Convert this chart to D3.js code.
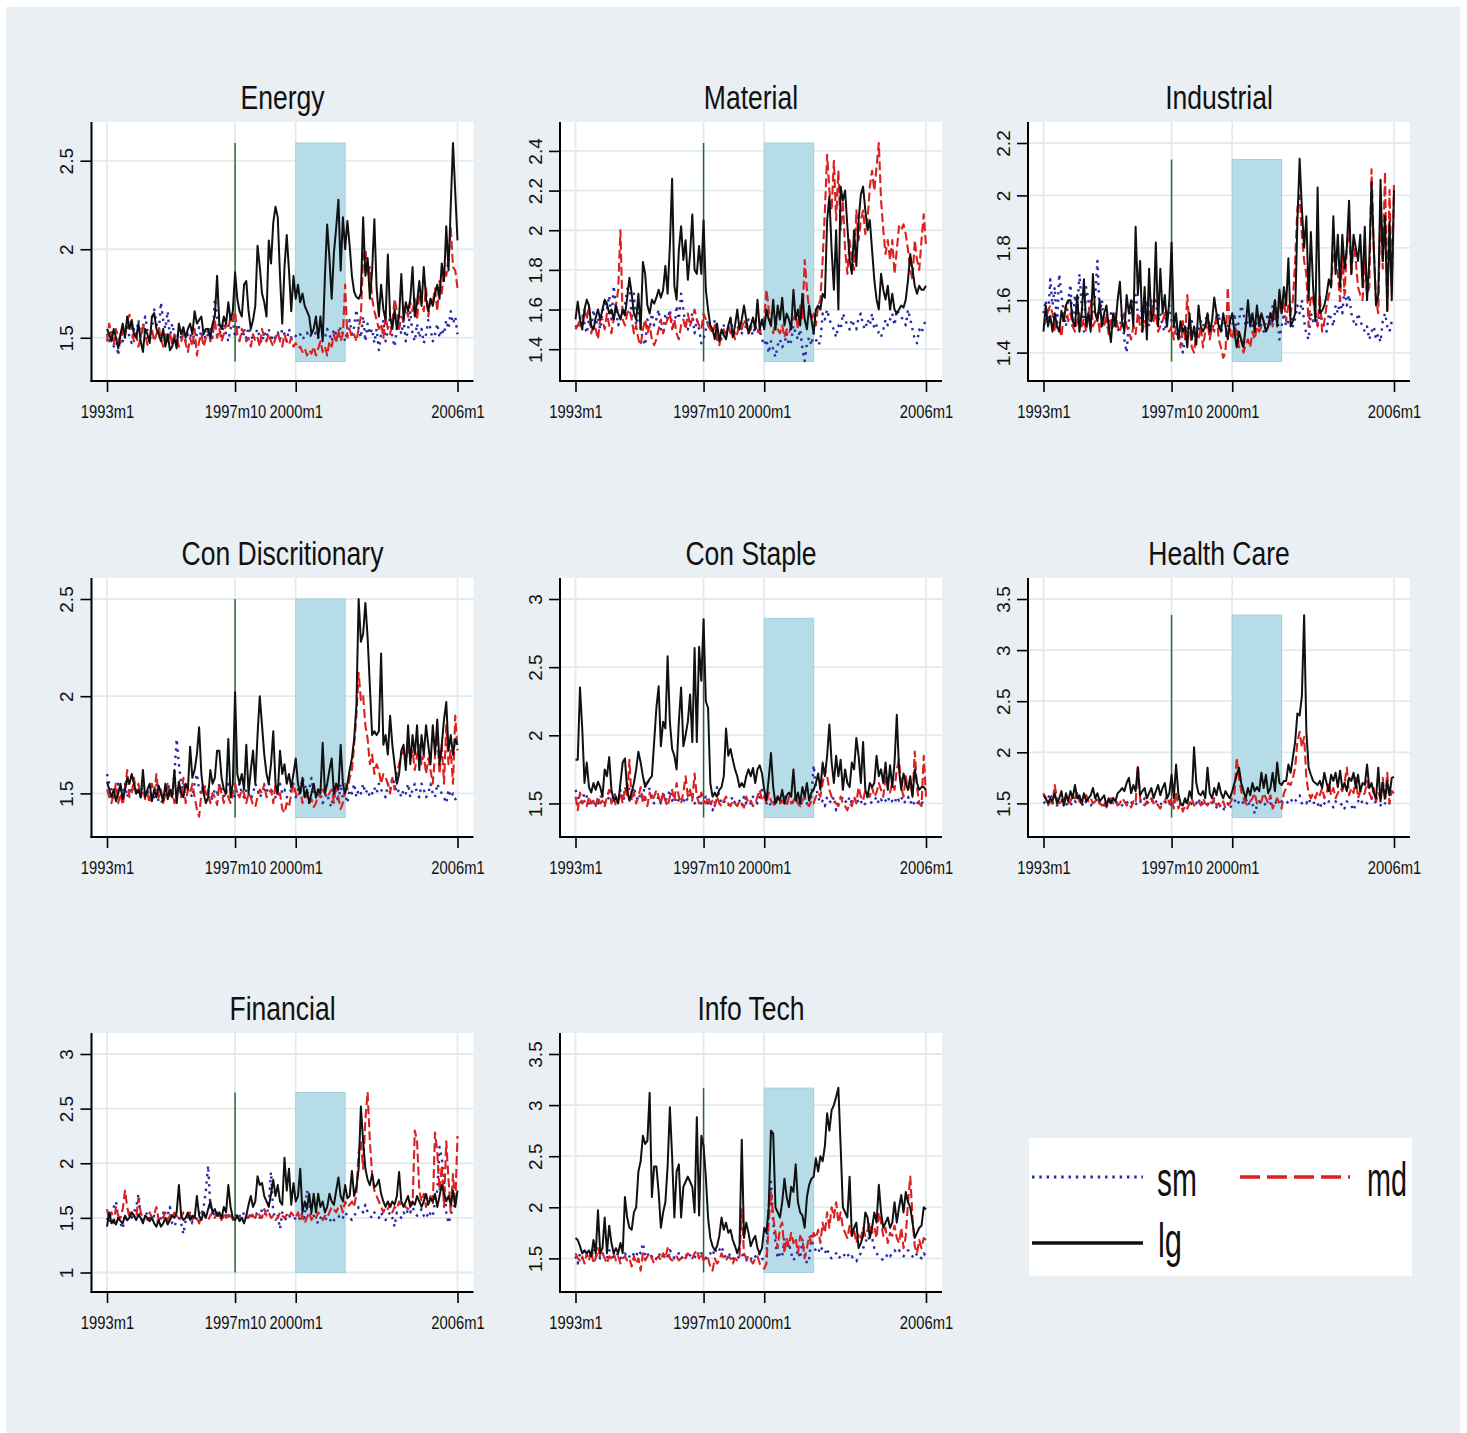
<!DOCTYPE html>
<html>
<head>
<meta charset="utf-8">
<script src="https://cdn.jsdelivr.net/npm/d3@7"></script>
<style>
  body { margin: 0; background: #fff; }
</style>
</head>
<body>
<svg id="chart" width="1467" height="1433"></svg>
<script>
// monthly values 1993m1 .. 2006m1 (157 months)

var xTickMonths = [0, 57, 84, 156];
var xTickLabels = ["1993m1", "1997m10", "2000m1", "2006m1"];
var crisisMonth = 57;          // 1997m10
var bandMonths = [84, 106];    // 2000m1 .. 2001m11

var energyLg = [
1.55,1.52,1.48,1.55,1.50,1.44,1.52,1.58,1.50,1.62,1.55,1.60,
1.52,1.50,1.58,1.48,1.42,1.55,1.52,1.47,1.62,1.64,1.55,1.52,
1.48,1.55,1.45,1.52,1.43,1.45,1.50,1.44,1.58,1.52,1.56,1.50,
1.55,1.58,1.52,1.65,1.58,1.60,1.62,1.52,1.55,1.55,1.50,1.58,
1.62,1.85,1.58,1.55,1.62,1.58,1.70,1.60,1.65,1.87,1.72,1.65,
1.62,1.80,1.82,1.65,1.55,1.60,1.68,2.02,1.90,1.75,1.70,1.62,
2.05,1.92,2.15,2.24,2.18,1.85,1.58,1.90,2.08,1.88,1.65,1.85,
1.72,1.80,1.70,1.75,1.68,1.65,1.62,1.52,1.55,1.62,1.50,1.62,
1.48,1.85,2.14,1.95,1.72,1.98,2.12,2.28,1.88,2.18,2.00,2.16,
2.02,1.85,1.76,1.73,1.72,1.75,2.18,1.85,1.95,1.72,1.88,2.17,
1.78,1.62,1.80,1.66,1.60,1.97,1.62,1.55,1.66,1.55,1.62,1.86,
1.60,1.70,1.65,1.72,1.90,1.62,1.70,1.82,1.68,1.90,1.72,1.65,
1.72,1.68,1.75,1.80,1.72,1.92,1.82,2.13,1.88,2.25,2.60,2.32,
2.05];
var energyMd = [
1.48,1.58,1.52,1.46,1.55,1.50,1.47,1.55,1.52,1.60,1.63,1.55,
1.48,1.52,1.45,1.50,1.58,1.52,1.46,1.50,1.55,1.48,1.52,1.56,
1.50,1.45,1.52,1.48,1.53,1.46,1.52,1.50,1.45,1.48,1.52,1.47,
1.42,1.50,1.45,1.55,1.40,1.48,1.52,1.45,1.50,1.55,1.48,1.52,
1.60,1.50,1.55,1.48,1.52,1.58,1.55,1.62,1.60,1.65,1.52,1.48,
1.55,1.52,1.48,1.50,1.45,1.52,1.48,1.50,1.45,1.55,1.50,1.48,
1.52,1.48,1.45,1.50,1.53,1.48,1.45,1.52,1.48,1.46,1.50,1.45,
1.47,1.44,1.45,1.42,1.44,1.40,1.43,1.41,1.45,1.40,1.44,1.48,
1.42,1.45,1.40,1.48,1.45,1.52,1.47,1.55,1.48,1.52,1.80,1.50,
1.55,1.50,1.52,1.48,1.55,1.62,1.95,2.00,1.85,1.90,1.72,1.65,
1.60,1.55,1.58,1.50,1.62,1.55,1.52,1.58,1.72,1.65,1.55,1.62,
1.60,1.68,1.62,1.70,1.65,1.72,1.60,1.75,1.70,1.65,1.78,1.62,
1.72,1.70,1.78,1.65,1.82,1.75,1.88,1.85,1.95,2.12,1.90,1.88,
1.78];
var energySm = [
1.52,1.48,1.55,1.45,1.50,1.40,1.53,1.48,1.52,1.58,1.50,1.47,
1.55,1.52,1.60,1.50,1.56,1.62,1.54,1.48,1.55,1.66,1.58,1.52,
1.70,1.60,1.55,1.65,1.50,1.58,1.52,1.47,1.55,1.50,1.53,1.48,
1.52,1.50,1.55,1.47,1.52,1.56,1.50,1.53,1.49,1.52,1.55,1.50,
1.72,1.62,1.55,1.50,1.58,1.52,1.48,1.55,1.60,1.50,1.58,1.55,
1.52,1.55,1.50,1.56,1.53,1.48,1.52,1.55,1.50,1.47,1.53,1.50,
1.55,1.48,1.52,1.50,1.53,1.49,1.55,1.52,1.48,1.55,1.50,1.52,
1.51,1.50,1.52,1.49,1.51,1.53,1.50,1.52,1.51,1.53,1.50,1.52,
1.53,1.50,1.55,1.52,1.48,1.55,1.52,1.50,1.56,1.52,1.48,1.55,
1.60,1.52,1.56,1.66,1.55,1.50,1.62,1.48,1.58,1.52,1.55,1.47,
1.55,1.43,1.52,1.60,1.48,1.55,1.62,1.50,1.45,1.55,1.58,1.52,
1.60,1.48,1.55,1.65,1.52,1.48,1.58,1.50,1.55,1.47,1.52,1.60,
1.55,1.48,1.52,1.58,1.50,1.55,1.52,1.60,1.55,1.65,1.58,1.62,
1.52];

var materialLg = [
1.55,1.64,1.55,1.50,1.60,1.65,1.62,1.52,1.50,1.56,1.60,1.55,
1.60,1.65,1.63,1.58,1.60,1.55,1.62,1.58,1.55,1.60,1.57,1.66,
1.76,1.68,1.58,1.55,1.68,1.50,1.84,1.78,1.62,1.58,1.65,1.63,
1.66,1.70,1.66,1.70,1.82,1.68,1.92,2.26,1.72,1.65,1.90,2.02,
1.85,1.95,1.75,1.88,2.08,1.80,1.78,1.92,1.78,2.05,1.70,1.60,
1.52,1.50,1.45,1.53,1.44,1.50,1.47,1.45,1.52,1.56,1.46,1.52,
1.60,1.50,1.55,1.62,1.55,1.48,1.52,1.56,1.50,1.65,1.50,1.55,
1.50,1.60,1.55,1.52,1.65,1.50,1.62,1.55,1.66,1.52,1.58,1.55,
1.50,1.70,1.55,1.60,1.52,1.68,1.55,1.50,1.62,1.55,1.48,1.60,
1.62,1.60,1.68,1.66,2.05,2.17,1.90,1.70,2.00,1.60,2.22,2.15,
2.20,2.02,1.85,1.78,2.00,1.82,2.05,2.18,2.22,2.10,2.00,2.05,
1.90,1.75,1.65,1.60,1.78,1.70,1.65,1.72,1.60,1.68,1.60,1.58,
1.60,1.62,1.61,1.65,1.75,1.88,1.80,1.72,1.68,1.72,1.70,1.70,
1.72];
var materialMd = [
1.50,1.52,1.55,1.50,1.60,1.55,1.62,1.48,1.52,1.50,1.45,1.55,
1.55,1.50,1.58,1.52,1.48,1.55,1.62,1.70,2.00,1.55,1.52,1.58,
1.60,1.55,1.48,1.52,1.45,1.42,1.50,1.55,1.48,1.52,1.45,1.42,
1.45,1.50,1.55,1.48,1.52,1.55,1.58,1.50,1.55,1.48,1.45,1.52,
1.55,1.50,1.58,1.52,1.55,1.60,1.55,1.52,1.50,1.58,1.55,1.52,
1.50,1.48,1.52,1.45,1.42,1.48,1.50,1.46,1.52,1.48,1.50,1.45,
1.48,1.52,1.50,1.55,1.52,1.48,1.50,1.55,1.52,1.50,1.48,1.52,
1.55,1.70,1.60,1.52,1.48,1.55,1.50,1.48,1.52,1.46,1.50,1.48,
1.52,1.55,1.58,1.50,1.62,1.55,1.85,1.70,1.60,1.55,1.58,1.52,
1.62,1.65,1.85,2.10,2.38,2.20,2.10,2.35,2.05,2.30,2.00,2.15,
1.90,1.78,1.95,1.85,1.80,2.10,1.95,2.05,2.10,1.98,2.05,2.22,
2.30,2.20,2.32,2.44,2.15,2.00,1.88,1.95,1.85,1.95,1.78,1.90,
2.02,2.00,2.03,1.98,1.90,1.80,1.75,1.95,1.85,1.80,1.95,2.08,
1.92];
var materialSm = [
1.52,1.50,1.55,1.58,1.53,1.48,1.55,1.50,1.60,1.52,1.56,1.50,
1.58,1.65,1.60,1.67,1.55,1.72,1.60,1.52,1.56,1.58,1.62,1.70,
1.73,1.55,1.68,1.52,1.60,1.50,1.45,1.42,1.55,1.50,1.58,1.52,
1.55,1.60,1.50,1.48,1.58,1.55,1.60,1.52,1.50,1.62,1.55,1.68,
1.60,1.52,1.50,1.55,1.58,1.48,1.55,1.50,1.43,1.45,1.50,1.55,
1.52,1.48,1.55,1.50,1.47,1.45,1.52,1.48,1.50,1.55,1.50,1.48,
1.50,1.53,1.48,1.50,1.52,1.55,1.50,1.47,1.52,1.48,1.50,1.45,
1.42,1.45,1.38,1.44,1.40,1.36,1.42,1.45,1.41,1.43,1.48,1.42,
1.44,1.52,1.48,1.45,1.50,1.40,1.34,1.43,1.46,1.42,1.48,1.45,
1.42,1.44,1.58,1.55,1.60,1.55,1.52,1.50,1.46,1.52,1.50,1.58,
1.55,1.52,1.50,1.55,1.52,1.50,1.56,1.58,1.52,1.50,1.55,1.52,
1.58,1.50,1.52,1.48,1.46,1.50,1.55,1.52,1.55,1.58,1.52,1.60,
1.58,1.56,1.55,1.52,1.60,1.55,1.50,1.45,1.43,1.50,1.48,1.52,
1.55];

var industrialLg = [
1.48,1.58,1.50,1.54,1.48,1.55,1.50,1.48,1.56,1.52,1.58,1.60,
1.60,1.52,1.50,1.62,1.48,1.55,1.68,1.50,1.55,1.48,1.70,1.55,
1.52,1.60,1.50,1.55,1.58,1.50,1.44,1.55,1.50,1.60,1.67,1.52,
1.48,1.62,1.55,1.60,1.50,1.88,1.62,1.75,1.48,1.65,1.45,1.72,
1.52,1.55,1.82,1.50,1.72,1.55,1.62,1.50,1.60,1.82,1.50,1.55,
1.45,1.52,1.48,1.50,1.42,1.55,1.45,1.50,1.43,1.58,1.50,1.48,
1.50,1.55,1.48,1.52,1.61,1.55,1.50,1.48,1.55,1.50,1.45,1.52,
1.55,1.48,1.42,1.48,1.45,1.42,1.50,1.60,1.50,1.55,1.48,1.58,
1.50,1.55,1.52,1.48,1.50,1.55,1.52,1.60,1.50,1.64,1.55,1.65,
1.58,1.76,1.50,1.52,1.55,1.90,2.14,1.95,1.80,1.92,1.60,1.86,
1.65,1.52,2.03,1.55,1.56,1.58,1.62,1.68,1.65,1.92,1.70,1.85,
1.65,1.85,1.72,1.80,1.98,1.70,1.85,1.80,1.75,1.85,1.65,1.88,
1.60,1.75,2.05,1.80,1.58,1.62,2.06,1.75,1.92,1.56,1.90,1.60,
2.02];
var industrialMd = [
1.50,1.52,1.56,1.58,1.55,1.48,1.52,1.50,1.46,1.55,1.58,1.52,
1.55,1.50,1.48,1.52,1.55,1.50,1.53,1.48,1.55,1.60,1.50,1.52,
1.55,1.48,1.52,1.50,1.55,1.47,1.53,1.50,1.55,1.50,1.48,1.52,
1.55,1.50,1.48,1.45,1.50,1.47,1.55,1.50,1.48,1.52,1.50,1.55,
1.60,1.52,1.55,1.48,1.50,1.52,1.55,1.50,1.48,1.50,1.45,1.50,
1.48,1.42,1.52,1.45,1.62,1.50,1.42,1.40,1.48,1.45,1.50,1.42,
1.48,1.52,1.45,1.50,1.48,1.55,1.45,1.42,1.38,1.40,1.65,1.48,
1.45,1.50,1.48,1.42,1.45,1.40,1.43,1.45,1.42,1.48,1.45,1.50,
1.48,1.50,1.52,1.48,1.50,1.55,1.50,1.60,1.55,1.58,1.55,1.60,
1.52,1.58,1.55,1.60,1.75,1.95,2.00,1.85,1.75,1.70,1.50,1.62,
1.60,1.55,1.50,1.62,1.48,1.52,1.58,1.62,1.65,1.78,1.75,1.70,
1.60,1.78,1.62,1.80,1.88,1.70,1.82,1.75,1.65,1.62,1.60,1.75,
1.62,1.65,2.10,1.80,1.60,1.55,1.98,1.72,2.09,1.55,2.02,1.65,
2.04];
var industrialSm = [
1.55,1.60,1.52,1.68,1.58,1.65,1.50,1.70,1.62,1.55,1.50,1.60,
1.66,1.50,1.62,1.55,1.70,1.58,1.48,1.65,1.60,1.52,1.56,1.62,
1.75,1.55,1.60,1.50,1.52,1.48,1.55,1.50,1.53,1.48,1.50,1.55,
1.45,1.40,1.52,1.60,1.58,1.62,1.55,1.52,1.58,1.55,1.60,1.50,
1.55,1.58,1.60,1.52,1.55,1.50,1.48,1.55,1.58,1.52,1.50,1.48,
1.45,1.50,1.40,1.45,1.50,1.48,1.52,1.50,1.45,1.48,1.52,1.50,
1.52,1.55,1.50,1.48,1.52,1.50,1.55,1.48,1.50,1.52,1.50,1.48,
1.50,1.55,1.48,1.52,1.58,1.55,1.50,1.52,1.55,1.50,1.48,1.52,
1.55,1.50,1.48,1.52,1.55,1.50,1.58,1.52,1.55,1.45,1.50,1.55,
1.50,1.52,1.55,1.50,1.53,1.58,1.55,1.60,1.52,1.47,1.45,1.55,
1.52,1.55,1.50,1.56,1.52,1.50,1.48,1.55,1.53,1.50,1.58,1.55,
1.60,1.55,1.65,1.58,1.62,1.55,1.52,1.50,1.55,1.52,1.50,1.48,
1.50,1.45,1.48,1.50,1.45,1.47,1.44,1.52,1.55,1.50,1.48,1.52,
1.53];

var conDiscLg = [
1.56,1.52,1.48,1.52,1.46,1.50,1.55,1.47,1.52,1.58,1.55,1.60,
1.55,1.50,1.52,1.48,1.62,1.48,1.52,1.55,1.46,1.52,1.48,1.54,
1.50,1.46,1.55,1.47,1.52,1.48,1.62,1.45,1.56,1.50,1.48,1.55,
1.52,1.74,1.58,1.62,1.70,1.84,1.60,1.50,1.45,1.48,1.62,1.55,
1.58,1.72,1.72,1.58,1.52,1.50,1.78,1.48,1.55,2.02,1.60,1.55,
1.60,1.52,1.75,1.50,1.62,1.72,1.55,1.80,2.00,1.85,1.70,1.60,
1.55,1.65,1.82,1.55,1.50,1.72,1.60,1.65,1.55,1.60,1.53,1.60,
1.68,1.55,1.50,1.58,1.48,1.52,1.45,1.50,1.55,1.48,1.52,1.50,
1.76,1.50,1.55,1.62,1.68,1.50,1.55,1.52,1.75,1.55,1.50,1.55,
1.62,1.68,1.78,1.95,2.50,2.28,2.32,2.48,2.30,2.05,1.80,1.82,
1.80,1.82,2.22,1.75,1.80,1.70,1.90,1.75,1.65,1.55,1.60,1.72,
1.75,1.62,1.85,1.65,1.80,1.70,1.85,1.62,1.80,1.70,1.85,1.75,
1.65,1.85,1.70,1.88,1.65,1.75,1.88,1.97,1.72,1.80,1.70,1.78,
1.75];
var conDiscMd = [
1.52,1.48,1.45,1.50,1.55,1.45,1.50,1.44,1.52,1.62,1.48,1.50,
1.58,1.50,1.55,1.48,1.52,1.47,1.50,1.45,1.55,1.50,1.60,1.48,
1.52,1.45,1.50,1.55,1.48,1.52,1.45,1.50,1.55,1.48,1.58,1.45,
1.52,1.50,1.55,1.48,1.42,1.38,1.50,1.55,1.48,1.52,1.45,1.50,
1.48,1.44,1.55,1.50,1.45,1.52,1.48,1.45,1.50,1.55,1.50,1.48,
1.52,1.50,1.45,1.50,1.48,1.44,1.43,1.48,1.52,1.50,1.55,1.48,
1.50,1.52,1.45,1.55,1.48,1.50,1.42,1.40,1.45,1.43,1.50,1.55,
1.50,1.48,1.52,1.45,1.50,1.48,1.45,1.47,1.43,1.45,1.50,1.48,
1.52,1.50,1.48,1.50,1.52,1.45,1.55,1.48,1.42,1.45,1.55,1.52,
1.58,1.62,1.75,1.90,2.12,1.98,2.00,1.85,1.78,1.65,1.70,1.60,
1.65,1.62,1.55,1.60,1.58,1.55,1.50,1.58,1.52,1.60,1.65,1.70,
1.72,1.65,1.75,1.68,1.72,1.62,1.70,1.75,1.65,1.70,1.60,1.68,
1.62,1.55,1.70,1.80,1.60,1.75,1.55,1.85,1.65,1.72,1.55,1.90,
1.72];
var conDiscSm = [
1.60,1.55,1.52,1.48,1.50,1.55,1.52,1.50,1.55,1.48,1.52,1.50,
1.55,1.50,1.52,1.48,1.55,1.50,1.52,1.46,1.50,1.48,1.55,1.45,
1.45,1.47,1.50,1.55,1.52,1.48,1.60,1.78,1.65,1.55,1.50,1.55,
1.52,1.50,1.48,1.55,1.60,1.52,1.50,1.55,1.52,1.50,1.45,1.48,
1.52,1.50,1.55,1.52,1.48,1.50,1.55,1.52,1.50,1.48,1.52,1.55,
1.50,1.48,1.52,1.50,1.47,1.50,1.55,1.52,1.48,1.50,1.52,1.50,
1.55,1.52,1.50,1.48,1.52,1.55,1.50,1.52,1.48,1.50,1.52,1.55,
1.48,1.52,1.50,1.58,1.55,1.50,1.52,1.58,1.50,1.48,1.52,1.50,
1.45,1.48,1.50,1.45,1.43,1.52,1.50,1.45,1.55,1.47,1.50,1.45,
1.52,1.50,1.55,1.48,1.52,1.50,1.55,1.50,1.52,1.48,1.50,1.53,
1.50,1.55,1.52,1.50,1.48,1.55,1.52,1.58,1.55,1.50,1.52,1.48,
1.52,1.50,1.55,1.48,1.52,1.55,1.50,1.48,1.55,1.52,1.48,1.50,
1.55,1.50,1.48,1.55,1.52,1.50,1.48,1.45,1.52,1.48,1.50,1.47,
1.48];

var conStapleLg = [
1.82,1.82,2.35,2.05,1.65,1.80,1.62,1.58,1.65,1.60,1.66,1.62,
1.55,1.75,1.70,1.84,1.60,1.52,1.55,1.50,1.65,1.80,1.83,1.60,
1.52,1.58,1.65,1.75,1.88,1.80,1.70,1.62,1.65,1.68,1.70,1.95,
2.20,2.36,1.92,2.10,2.05,2.58,2.10,1.90,1.85,1.75,2.10,2.35,
1.92,2.00,2.10,2.30,1.95,2.64,1.95,2.65,2.40,2.85,2.25,2.20,
1.65,1.55,1.58,1.55,1.60,1.62,1.70,2.05,1.85,1.90,1.82,1.75,
1.70,1.62,1.65,1.62,1.70,1.75,1.70,1.76,1.65,1.75,1.78,1.72,
1.60,1.52,1.68,1.87,1.62,1.50,1.55,1.52,1.60,1.50,1.56,1.58,
1.55,1.75,1.52,1.58,1.50,1.62,1.55,1.65,1.52,1.58,1.60,1.65,
1.72,1.60,1.80,1.70,1.85,2.08,1.80,1.65,1.85,1.70,1.82,1.60,
1.75,1.65,1.62,1.80,1.75,1.98,1.85,1.65,1.95,1.60,1.55,1.65,
1.62,1.65,1.85,1.70,1.75,1.65,1.80,1.60,1.78,1.62,1.80,2.15,
1.75,1.60,1.72,1.65,1.60,1.70,1.55,1.75,1.65,1.60,1.62,1.62,
1.60];
var conStapleMd = [
1.55,1.45,1.58,1.50,1.52,1.48,1.55,1.50,1.52,1.48,1.55,1.50,
1.52,1.48,1.55,1.60,1.50,1.55,1.48,1.52,1.58,1.50,1.62,1.55,
1.82,1.52,1.58,1.50,1.55,1.62,1.50,1.55,1.48,1.58,1.52,1.55,
1.60,1.55,1.50,1.58,1.52,1.48,1.55,1.60,1.52,1.65,1.55,1.50,
1.58,1.70,1.55,1.60,1.52,1.72,1.55,1.50,1.58,1.52,1.50,1.55,
1.50,1.52,1.48,1.55,1.50,1.48,1.52,1.55,1.50,1.48,1.52,1.50,
1.48,1.52,1.50,1.47,1.55,1.50,1.52,1.48,1.50,1.55,1.60,1.52,
1.55,1.50,1.58,1.52,1.50,1.48,1.55,1.50,1.52,1.50,1.48,1.55,
1.50,1.52,1.55,1.50,1.48,1.52,1.55,1.50,1.48,1.52,1.50,1.55,
1.58,1.55,1.65,1.75,1.70,1.60,1.55,1.52,1.50,1.48,1.55,1.50,
1.48,1.45,1.50,1.48,1.55,1.50,1.62,1.55,1.52,1.60,1.58,1.55,
1.62,1.55,1.58,1.65,1.60,1.55,1.70,1.62,1.58,1.65,1.60,1.75,
1.82,1.62,1.55,1.70,1.60,1.65,1.55,1.88,1.62,1.50,1.48,1.85,
1.55];
var conStapleSm = [
1.60,1.55,1.50,1.52,1.58,1.55,1.50,1.53,1.48,1.52,1.50,1.55,
1.55,1.50,1.52,1.55,1.60,1.58,1.55,1.50,1.60,1.52,1.55,1.65,
1.60,1.55,1.62,1.55,1.52,1.58,1.55,1.65,1.68,1.60,1.55,1.50,
1.52,1.55,1.50,1.58,1.52,1.55,1.60,1.52,1.55,1.50,1.53,1.55,
1.50,1.55,1.52,1.58,1.55,1.50,1.52,1.55,1.50,1.52,1.55,1.50,
1.52,1.45,1.50,1.62,1.55,1.50,1.52,1.50,1.48,1.52,1.55,1.50,
1.50,1.52,1.48,1.55,1.50,1.52,1.50,1.55,1.52,1.50,1.55,1.60,
1.55,1.50,1.52,1.48,1.50,1.52,1.55,1.50,1.52,1.55,1.50,1.52,
1.52,1.50,1.55,1.50,1.48,1.52,1.55,1.50,1.52,1.55,1.78,1.62,
1.55,1.50,1.52,1.48,1.55,1.52,1.50,1.55,1.45,1.50,1.52,1.55,
1.52,1.50,1.55,1.50,1.52,1.55,1.50,1.52,1.48,1.50,1.55,1.52,
1.50,1.52,1.55,1.50,1.53,1.50,1.52,1.55,1.50,1.52,1.50,1.55,
1.52,1.55,1.50,1.52,1.55,1.50,1.53,1.48,1.50,1.52,1.50,1.52,
1.50];

var healthLg = [
1.58,1.55,1.50,1.55,1.52,1.60,1.50,1.55,1.62,1.48,1.60,1.52,
1.62,1.55,1.68,1.55,1.58,1.50,1.60,1.52,1.55,1.58,1.65,1.55,
1.60,1.52,1.55,1.58,1.48,1.55,1.50,1.55,1.52,1.60,1.62,1.65,
1.62,1.70,1.75,1.60,1.68,1.62,1.85,1.58,1.62,1.65,1.55,1.60,
1.65,1.55,1.62,1.68,1.58,1.65,1.70,1.55,1.60,1.78,1.55,1.88,
1.60,1.50,1.48,1.55,1.50,1.62,1.55,2.05,1.70,1.60,1.58,1.62,
1.55,1.85,1.60,1.55,1.65,1.58,1.70,1.60,1.55,1.62,1.58,1.55,
1.62,1.70,1.78,1.85,1.70,1.62,1.55,1.65,1.58,1.70,1.62,1.66,
1.62,1.80,1.65,1.78,1.60,1.65,1.80,1.62,1.90,1.70,1.68,1.72,
1.72,1.88,1.80,1.95,2.10,2.38,2.36,2.55,3.34,2.20,1.85,1.78,
1.72,1.70,1.68,1.72,1.65,1.80,1.70,1.62,1.78,1.72,1.80,1.66,
1.82,1.65,1.70,1.62,1.75,1.72,1.80,1.65,1.78,1.62,1.70,1.68,
1.88,1.65,1.70,1.60,1.55,1.85,1.52,1.70,1.55,1.72,1.58,1.75,
1.76];
var healthMd = [
1.60,1.55,1.48,1.52,1.50,1.68,1.55,1.50,1.52,1.48,1.55,1.50,
1.52,1.58,1.55,1.60,1.52,1.50,1.55,1.58,1.52,1.55,1.50,1.52,
1.55,1.50,1.48,1.52,1.46,1.50,1.55,1.50,1.52,1.48,1.50,1.55,
1.52,1.48,1.50,1.46,1.52,1.50,1.88,1.55,1.50,1.48,1.52,1.50,
1.55,1.50,1.52,1.48,1.45,1.50,1.52,1.58,1.50,1.55,1.45,1.62,
1.45,1.50,1.42,1.48,1.45,1.50,1.55,1.48,1.50,1.52,1.48,1.55,
1.50,1.48,1.52,1.50,1.55,1.48,1.50,1.47,1.52,1.45,1.48,1.50,
1.55,1.60,1.95,1.75,1.62,1.55,1.50,1.48,1.52,1.55,1.60,1.50,
1.48,1.52,1.60,1.55,1.50,1.58,1.45,1.50,1.55,1.50,1.45,1.60,
1.65,1.70,1.68,1.75,1.85,2.10,2.20,2.05,2.15,1.75,1.60,1.55,
1.60,1.55,1.62,1.58,1.65,1.55,1.60,1.70,1.58,1.65,1.55,1.60,
1.65,1.62,1.70,1.85,1.58,1.65,1.60,1.75,1.55,1.62,1.58,1.60,
1.72,1.60,1.55,1.65,1.52,1.60,1.55,1.75,1.52,1.80,1.50,1.62,
1.60];
var healthSm = [
1.50,1.52,1.55,1.60,1.50,1.52,1.48,1.50,1.53,1.50,1.48,1.52,
1.50,1.48,1.52,1.50,1.55,1.50,1.47,1.52,1.50,1.48,1.50,1.52,
1.55,1.50,1.52,1.48,1.50,1.52,1.50,1.55,1.50,1.52,1.50,1.48,
1.50,1.52,1.48,1.50,1.53,1.50,1.48,1.52,1.50,1.55,1.50,1.52,
1.50,1.55,1.52,1.50,1.48,1.52,1.50,1.53,1.50,1.48,1.52,1.50,
1.55,1.50,1.48,1.52,1.50,1.48,1.50,1.52,1.50,1.55,1.48,1.50,
1.52,1.50,1.48,1.50,1.52,1.46,1.50,1.45,1.43,1.48,1.50,1.45,
1.50,1.52,1.55,1.50,1.48,1.52,1.55,1.48,1.52,1.50,1.40,1.48,
1.52,1.50,1.48,1.50,1.52,1.50,1.48,1.50,1.52,1.50,1.52,1.50,
1.50,1.52,1.55,1.50,1.52,1.55,1.58,1.50,1.52,1.50,1.55,1.50,
1.52,1.48,1.50,1.45,1.52,1.50,1.48,1.52,1.50,1.46,1.52,1.50,
1.48,1.50,1.45,1.52,1.50,1.48,1.43,1.50,1.52,1.55,1.50,1.52,
1.50,1.52,1.55,1.50,1.52,1.50,1.48,1.52,1.50,1.53,1.50,1.52,
1.51];

var financialLg = [
1.42,1.55,1.45,1.48,1.44,1.50,1.47,1.45,1.52,1.48,1.50,1.55,
1.52,1.48,1.53,1.50,1.45,1.52,1.50,1.47,1.50,1.45,1.42,1.48,
1.42,1.45,1.50,1.44,1.48,1.52,1.50,1.55,1.80,1.52,1.48,1.50,
1.55,1.48,1.52,1.50,1.70,1.52,1.48,1.55,1.50,1.58,1.65,1.55,
1.58,1.52,1.55,1.50,1.60,1.55,1.80,1.60,1.50,1.48,1.52,1.47,
1.50,1.45,1.52,1.62,1.70,1.60,1.65,1.88,1.80,1.82,1.70,1.65,
1.60,1.72,1.85,1.70,1.80,1.65,1.62,2.05,1.75,1.95,1.62,1.82,
1.65,1.70,1.95,1.55,1.65,1.58,1.72,1.55,1.72,1.55,1.72,1.60,
1.65,1.55,1.60,1.72,1.65,1.62,1.75,1.87,1.70,1.65,1.80,1.68,
1.70,1.93,1.70,1.78,1.95,2.52,2.20,1.95,1.85,1.80,1.90,1.78,
1.80,1.85,1.72,1.65,1.60,1.65,1.60,1.65,1.62,1.70,1.92,1.65,
1.60,1.65,1.70,1.60,1.65,1.62,1.70,1.65,1.60,1.65,1.72,1.62,
1.68,1.65,1.72,1.60,1.70,1.80,1.72,1.65,1.70,1.62,1.75,1.60,
1.75];
var financialMd = [
1.58,1.48,1.55,1.45,1.60,1.52,1.50,1.58,1.75,1.60,1.50,1.55,
1.52,1.50,1.68,1.55,1.50,1.52,1.48,1.55,1.50,1.53,1.60,1.48,
1.52,1.50,1.55,1.48,1.52,1.50,1.55,1.52,1.48,1.50,1.55,1.52,
1.50,1.55,1.48,1.52,1.50,1.45,1.52,1.55,1.50,1.48,1.52,1.55,
1.50,1.55,1.52,1.48,1.55,1.50,1.52,1.55,1.48,1.50,1.52,1.48,
1.50,1.48,1.52,1.50,1.55,1.52,1.50,1.55,1.52,1.50,1.58,1.52,
1.55,1.50,1.52,1.48,1.50,1.55,1.52,1.50,1.53,1.50,1.55,1.52,
1.50,1.55,1.48,1.52,1.45,1.50,1.55,1.48,1.52,1.50,1.55,1.52,
1.48,1.52,1.50,1.55,1.60,1.58,1.55,1.60,1.62,1.55,1.65,1.60,
1.62,1.65,1.60,1.72,2.10,2.20,1.95,2.40,2.65,2.20,1.90,1.75,
1.70,1.65,1.60,1.55,1.60,1.58,1.62,1.55,1.60,1.58,1.65,1.60,
1.62,1.60,1.58,1.65,1.62,2.30,2.20,1.75,1.65,1.72,1.60,1.65,
1.70,1.62,2.28,2.10,1.75,1.98,1.60,2.20,1.85,1.55,1.90,1.62,
2.25];
var financialSm = [
1.50,1.45,1.55,1.60,1.65,1.50,1.45,1.40,1.52,1.48,1.55,1.50,
1.55,1.60,1.72,1.50,1.48,1.52,1.55,1.50,1.48,1.52,1.50,1.45,
1.50,1.55,1.48,1.52,1.60,1.45,1.42,1.48,1.50,1.45,1.35,1.48,
1.50,1.52,1.45,1.48,1.50,1.55,1.52,1.60,1.75,1.98,1.60,1.55,
1.52,1.50,1.55,1.48,1.52,1.50,1.55,1.48,1.52,1.50,1.55,1.52,
1.50,1.55,1.52,1.48,1.55,1.50,1.52,1.55,1.50,1.58,1.55,1.52,
1.62,1.92,1.55,1.50,1.52,1.40,1.55,1.50,1.48,1.52,1.50,1.48,
1.50,1.52,1.48,1.55,1.50,1.75,1.65,1.50,1.52,1.48,1.45,1.50,
1.52,1.50,1.48,1.50,1.45,1.48,1.50,1.52,1.48,1.50,1.55,1.52,
1.50,1.48,1.52,1.55,1.60,1.58,1.55,1.62,1.55,1.52,1.50,1.55,
1.52,1.50,1.55,1.50,1.48,1.52,1.55,1.50,1.42,1.55,1.52,1.50,
1.55,1.52,1.58,1.55,1.60,1.55,1.52,1.55,1.58,1.52,1.55,1.50,
1.55,1.52,1.65,1.75,2.15,2.05,1.85,1.55,1.45,1.52,1.60,1.62,
1.60];

var infoTechLg = [
1.70,1.68,1.62,1.55,1.58,1.55,1.58,1.52,1.68,1.55,1.97,1.55,
1.60,1.90,1.55,1.82,1.65,1.55,1.60,1.55,1.65,1.55,2.10,1.90,
1.80,1.78,1.95,2.00,2.35,2.45,2.70,2.62,2.65,3.12,2.10,2.40,
2.40,2.15,1.80,1.95,2.05,2.40,2.98,2.50,1.90,2.35,2.42,1.90,
2.20,2.25,2.30,2.25,2.20,1.95,2.88,1.92,2.70,2.60,2.30,1.90,
1.70,1.62,1.58,1.62,1.72,1.90,1.78,1.85,1.75,1.78,1.68,1.62,
1.55,1.62,2.66,1.70,1.85,1.75,1.62,1.68,1.72,1.60,1.55,1.60,
1.80,1.75,2.00,2.75,2.72,2.00,1.95,1.90,2.05,2.28,2.10,2.00,
2.20,2.15,2.42,2.05,1.95,1.92,1.80,2.10,2.22,2.28,2.30,2.48,
2.35,2.50,2.45,2.60,2.92,2.75,2.95,3.00,3.08,3.17,2.60,2.00,
1.95,1.90,2.30,1.72,1.80,1.85,1.60,1.65,1.72,1.95,1.90,1.70,
1.80,1.95,1.85,2.22,1.95,1.80,1.85,1.90,1.80,1.85,2.05,1.85,
2.00,2.12,1.95,2.15,2.05,2.00,1.85,1.70,1.75,1.80,1.82,2.00,
1.98];
var infoTechMd = [
1.55,1.50,1.48,1.52,1.45,1.55,1.48,1.58,1.45,1.50,1.60,1.52,
1.55,1.50,1.45,1.52,1.50,1.55,1.48,1.52,1.45,1.50,1.52,1.48,
1.50,1.42,1.52,1.45,1.50,1.38,1.55,1.48,1.52,1.55,1.50,1.45,
1.50,1.52,1.48,1.55,1.50,1.60,1.50,1.48,1.50,1.52,1.48,1.50,
1.52,1.50,1.55,1.52,1.50,1.55,1.58,1.50,1.55,1.48,1.52,1.50,
1.42,1.38,1.50,1.45,1.48,1.55,1.50,1.48,1.52,1.50,1.45,1.50,
1.48,1.52,1.98,1.55,1.50,1.52,1.48,1.45,1.50,1.52,1.45,1.42,
1.40,1.45,1.85,2.15,1.90,1.75,1.60,1.80,1.85,1.55,1.70,1.62,
1.75,1.65,1.70,1.55,1.72,1.68,1.50,1.60,1.72,1.65,1.75,1.70,
1.78,1.65,1.85,1.75,1.95,1.80,2.00,1.90,2.05,1.85,1.95,1.80,
1.75,1.70,1.82,1.72,1.78,1.65,1.75,1.70,1.80,1.72,1.78,1.85,
1.75,1.80,1.70,1.95,1.85,1.72,1.80,1.65,1.75,1.72,1.82,1.70,
1.65,1.80,1.60,1.72,2.05,2.30,1.90,1.62,1.55,1.68,1.60,1.70,
1.68];
var infoTechSm = [
1.52,1.45,1.55,1.50,1.58,1.52,1.55,1.50,1.60,1.52,1.55,1.50,
1.55,1.52,1.50,1.58,1.55,1.50,1.52,1.55,1.50,1.52,1.55,1.50,
1.52,1.50,1.55,1.52,1.58,1.55,1.65,1.52,1.55,1.50,1.52,1.48,
1.50,1.55,1.52,1.50,1.55,1.52,1.58,1.55,1.50,1.52,1.55,1.50,
1.52,1.55,1.50,1.53,1.55,1.52,1.50,1.58,1.55,1.52,1.50,1.55,
1.55,1.52,1.60,1.55,1.58,1.62,1.55,1.50,1.52,1.55,1.50,1.48,
1.50,1.52,1.55,1.50,1.48,1.52,1.50,1.48,1.52,1.50,1.55,1.50,
1.48,1.52,2.00,2.25,1.85,1.65,1.50,1.55,1.52,1.70,1.60,1.65,
1.55,1.48,1.52,1.58,1.50,1.68,1.55,1.45,1.50,1.72,1.60,1.58,
1.55,1.62,1.58,1.55,1.60,1.52,1.50,1.52,1.55,1.50,1.52,1.55,
1.52,1.55,1.50,1.52,1.48,1.47,1.52,1.55,1.60,1.65,1.72,1.68,
1.70,1.60,1.55,1.52,1.50,1.48,1.50,1.55,1.52,1.55,1.58,1.55,
1.58,1.55,1.52,1.55,1.58,1.55,1.52,1.50,1.55,1.52,1.50,1.55,
1.52];

var panelNames = ["Energy", "Material", "Industrial", "Con Discritionary",
                  "Con Staple", "Health Care", "Financial", "Info Tech"];
var panelTicks = [[1.5, 2, 2.5], [1.4, 1.6, 1.8, 2, 2.2, 2.4], [1.4, 1.6, 1.8, 2, 2.2],
                  [1.5, 2, 2.5], [1.5, 2, 2.5, 3], [1.5, 2, 2.5, 3, 3.5],
                  [1, 1.5, 2, 2.5, 3], [1.5, 2, 2.5, 3, 3.5]];
// vertical extent of the shaded band and of the 1997m10 line
var bandLow  = [1.366, 1.338, 1.366, 1.376, 1.397, 1.362, 1.0, 1.362];
var bandHigh = [2.60, 2.44, 2.137, 2.50, 2.858, 3.343, 2.648, 3.166];

var seriesSm = [energySm, materialSm, industrialSm, conDiscSm, conStapleSm, healthSm, financialSm, infoTechSm];
var seriesMd = [energyMd, materialMd, industrialMd, conDiscMd, conStapleMd, healthMd, financialMd, infoTechMd];
var seriesLg = [energyLg, materialLg, industrialLg, conDiscLg, conStapleLg, healthLg, financialLg, infoTechLg];

var legendKeys = ["sm", "md", "lg"];

// ---- drawing ----
var svg = d3.select("#chart");
var plain = "'Liberation Sans', Arial, sans-serif";
// no narrow face installed, so the condensed look is done with a horizontal squeeze

svg.append("rect")
    .attr("x", 6).attr("y", 7)
    .attr("width", 1454).attr("height", 1426)
    .attr("fill", "#e9eff2");

var colLeft = [91.5, 560, 1028];
var rowTop = [122, 578, 1033];
var plotW = 382, plotH = 259;

var styles = {
    sm: {color: "#2a2aa6", width: 2.4, dash: "2.4,5"},
    md: {color: "#dc1f1f", width: 2.1, dash: "9,4"},
    lg: {color: "#111111", width: 2, dash: null}
};

panelNames.forEach(function(name, k) {
    var left = colLeft[k % 3], top = rowTop[Math.floor(k / 3)];
    var g = svg.append("g").attr("transform", "translate(" + left + "," + top + ")");

    var ticks = panelTicks[k];
    var lo = Math.min(bandLow[k], d3.min(ticks));
    var hi = Math.max(bandHigh[k], d3.max(ticks));

    var x = d3.scaleLinear().domain([0, 156]).range([15.5, 366]);
    var y = d3.scaleLinear().domain([lo, hi]).range([plotH - 19.5, 21]);

    g.append("rect")
        .attr("width", plotW).attr("height", plotH)
        .attr("fill", "#ffffff");

    // grid
    g.selectAll(".hgrid").data(ticks).enter().append("line")
        .attr("x1", 0).attr("x2", plotW)
        .attr("y1", function(d) { return y(d); })
        .attr("y2", function(d) { return y(d); })
        .attr("stroke", "#e2eaee").attr("stroke-width", 1.8);
    g.selectAll(".vgrid").data(xTickMonths).enter().append("line")
        .attr("y1", 0).attr("y2", plotH)
        .attr("x1", function(d) { return x(d); })
        .attr("x2", function(d) { return x(d); })
        .attr("stroke", "#e2eaee").attr("stroke-width", 1.8);

    // shaded period + 1997m10 line
    g.append("rect")
        .attr("x", x(bandMonths[0]))
        .attr("width", x(bandMonths[1]) - x(bandMonths[0]))
        .attr("y", y(bandHigh[k]))
        .attr("height", y(bandLow[k]) - y(bandHigh[k]))
        .attr("fill", "#b6dce7").attr("stroke", "#a3d0de").attr("stroke-width", 1);
    g.append("line")
        .attr("x1", x(crisisMonth)).attr("x2", x(crisisMonth))
        .attr("y1", y(bandHigh[k])).attr("y2", y(bandLow[k]))
        .attr("stroke", "#2b6b2b").attr("stroke-width", 1.5);

    var line = d3.line()
        .x(function(d, i) { return x(i); })
        .y(function(d) { return y(d); });

    [["sm", seriesSm[k]], ["md", seriesMd[k]], ["lg", seriesLg[k]]].forEach(function(s) {
        var st = styles[s[0]];
        g.append("path")
            .datum(s[1])
            .attr("d", line)
            .attr("fill", "none")
            .attr("stroke", st.color)
            .attr("stroke-width", st.width)
            .attr("stroke-linejoin", "round")
            .attr("stroke-dasharray", st.dash);
    });

    // axes
    var yAxis = g.append("g")
        .call(d3.axisLeft(y).tickValues(ticks).tickSize(11).tickSizeOuter(0)
            .tickFormat(function(d) { return String(d); }));
    yAxis.select(".domain").remove();
    yAxis.selectAll("line").attr("stroke", "#000").attr("stroke-width", 1.6);
    yAxis.selectAll("text")
        .attr("x", null).attr("dy", null)
        .attr("transform", "translate(-18.5,0) rotate(-90)")
        .attr("text-anchor", "middle")
        .attr("fill", "#111")
        .style("font-family", plain).style("font-size", "19px");

    var xAxis = g.append("g")
        .attr("transform", "translate(0," + plotH + ")")
        .call(d3.axisBottom(x).tickValues(xTickMonths).tickSize(11).tickSizeOuter(0)
            .tickFormat(function(d, i) { return xTickLabels[i]; }));
    xAxis.select(".domain").remove();
    xAxis.selectAll("line").attr("stroke", "#000").attr("stroke-width", 1.6);
    xAxis.selectAll("text")
        .attr("y", null).attr("dy", null)
        .attr("transform", "translate(0,37) scale(0.82,1)")
        .attr("fill", "#111")
        .style("font-family", plain).style("font-size", "18px");

    g.append("line").attr("x1", 0).attr("x2", 0).attr("y1", 0).attr("y2", plotH + 1)
        .attr("stroke", "#000").attr("stroke-width", 2);
    g.append("line").attr("x1", -1).attr("x2", plotW).attr("y1", plotH).attr("y2", plotH)
        .attr("stroke", "#000").attr("stroke-width", 2);

    g.append("text")
        .attr("transform", "translate(" + (plotW / 2) + ",-13) scale(0.78,1)")
        .attr("text-anchor", "middle")
        .attr("fill", "#111")
        .style("font-family", plain).style("font-size", "34px")
        .text(name);
});

// legend
var leg = svg.append("g");
leg.append("rect")
    .attr("x", 1029).attr("y", 1138).attr("width", 383).attr("height", 138)
    .attr("fill", "#ffffff");

var legendPos = {
    sm: {x1: 1032, x2: 1143, y: 1177, tx: 1157, ty: 1196, dash: "2.5,4.8", w: 3},
    md: {x1: 1240, x2: 1350, y: 1177, tx: 1367, ty: 1196, dash: "20,7", w: 3.5},
    lg: {x1: 1032, x2: 1143, y: 1243, tx: 1158, ty: 1257, dash: null, w: 3.5}
};
legendKeys.forEach(function(key) {
    var p = legendPos[key];
    leg.append("line")
        .attr("x1", p.x1).attr("x2", p.x2).attr("y1", p.y).attr("y2", p.y)
        .attr("stroke", styles[key].color)
        .attr("stroke-width", p.w)
        .attr("stroke-dasharray", p.dash);
    leg.append("text")
        .attr("x", p.tx).attr("y", p.ty)
        .attr("fill", "#111")
        .attr("textLength", key == "lg" ? 24 : 40)
        .attr("lengthAdjust", "spacingAndGlyphs")
        .style("font-family", plain).style("font-size", "48px")
        .text(key);
});
</script>
</body>
</html>
